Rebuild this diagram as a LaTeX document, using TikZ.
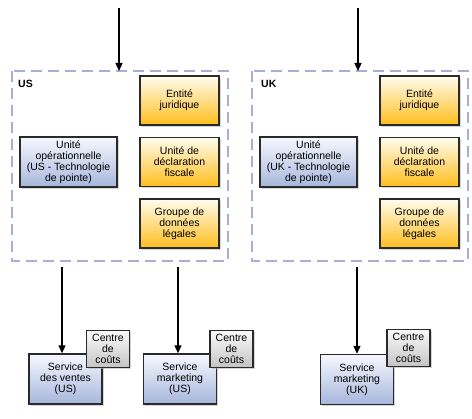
\documentclass[tikz,border=0pt]{standalone}
\usepackage{fontspec}
\setmainfont{Liberation Sans}
\usetikzlibrary{arrows.meta,shadows}
\definecolor{orangeTop}{HTML}{FFFCEE}
\definecolor{orangeBot}{HTML}{FFBE1E}
\definecolor{blueTop}{HTML}{F6F8FE}
\definecolor{blueBot}{HTML}{A6B6DC}
\definecolor{grayTop}{HTML}{FAFAFA}
\definecolor{grayBot}{HTML}{C4C4C4}
\definecolor{frameCol}{HTML}{A8AEDA}
\definecolor{borderCol}{HTML}{2A2A2A}
\tikzset{
  basebox/.style={draw=borderCol, line width=1.4pt, align=center, inner sep=0pt,
    font=\fontsize{10.5}{11}\selectfont,
    drop shadow={shadow xshift=1.8pt, shadow yshift=-1.8pt, fill=black!30, opacity=0.55}},
  orangebox/.style={basebox, top color=orangeTop, bottom color=orangeBot,
    minimum width=79pt, minimum height=49pt},
  bluebox/.style={basebox, top color=blueTop, bottom color=blueBot},
  opbox/.style={bluebox, minimum width=97pt, minimum height=50pt},
  servbox/.style={bluebox, minimum width=73pt, minimum height=50pt},
  costbox/.style={basebox, top color=grayTop, bottom color=grayBot,
    minimum width=43pt, minimum height=37pt},
  frame/.style={draw=frameCol, line width=1.2pt, dash pattern=on 11pt off 6pt},
  arr/.style={line width=1.3pt, -{Triangle[length=8pt,width=7pt]}},
  lbl/.style={font=\bfseries\fontsize{10.5}{11}\selectfont, anchor=west, inner sep=0pt}
}
\begin{document}
\begin{tikzpicture}[x=1pt,y=-1pt]
\useasboundingbox (0,0) rectangle (472,419);
% frames
\draw[frame] (12,71) rectangle (228,261);
\draw[frame] (252,71) rectangle (468,261);
\coordinate (usTop) at (119,71);
\coordinate (ukTop) at (358,71);
\coordinate (usIn) at (119,8);
\coordinate (ukIn) at (358,8);
\coordinate (usOut1) at (62,267);
\coordinate (usOut2) at (178,267);
\coordinate (ukOut) at (357,267);
\node[lbl] (usl) at (18,84) {US};
\node[lbl] (ukl) at (261,84) {UK};
% US
\node[orangebox] (ej1) at (179.5,100.5) {Entité\\juridique};
\node[orangebox] (ud1) at (179.5,162) {Unité de\\déclaration\\fiscale};
\node[orangebox] (gd1) at (179.5,223.5) {Groupe de\\données\\légales};
\node[opbox] (uo1) at (68.5,162) {Unité\\opérationnelle\\(US - Technologie\\de pointe)};
% UK
\node[orangebox] (ej2) at (419.5,100.5) {Entité\\juridique};
\node[orangebox] (ud2) at (419.5,162) {Unité de\\déclaration\\fiscale};
\node[orangebox] (gd2) at (419.5,223.5) {Groupe de\\données\\légales};
\node[opbox] (uo2) at (308.5,162) {Unité\\opérationnelle\\(UK - Technologie\\de pointe)};
% bottom
\node[servbox] (sv1) at (65.5,379) {Service\\des ventes\\(US)};
\node[costbox] (cc1) at (108,349) {Centre\\de\\coûts};
\node[servbox] (sm1) at (180,379) {Service\\marketing\\(US)};
\node[costbox] (cc2) at (231.5,349) {Centre\\de\\coûts};
\node[servbox] (sm2) at (357,379.5) {Service\\marketing\\(UK)};
\node[costbox] (cc3) at (408.5,348) {Centre\\de\\coûts};
% arrows
\draw[arr] (usIn) -- (usTop);
\draw[arr] (ukIn) -- (ukTop);
\draw[arr] (usOut1) -- (usOut1 |- sv1.north);
\draw[arr] (usOut2) -- (usOut2 |- sm1.north);
\draw[arr] (ukOut) -- (sm2.north);
\end{tikzpicture}
\end{document}
